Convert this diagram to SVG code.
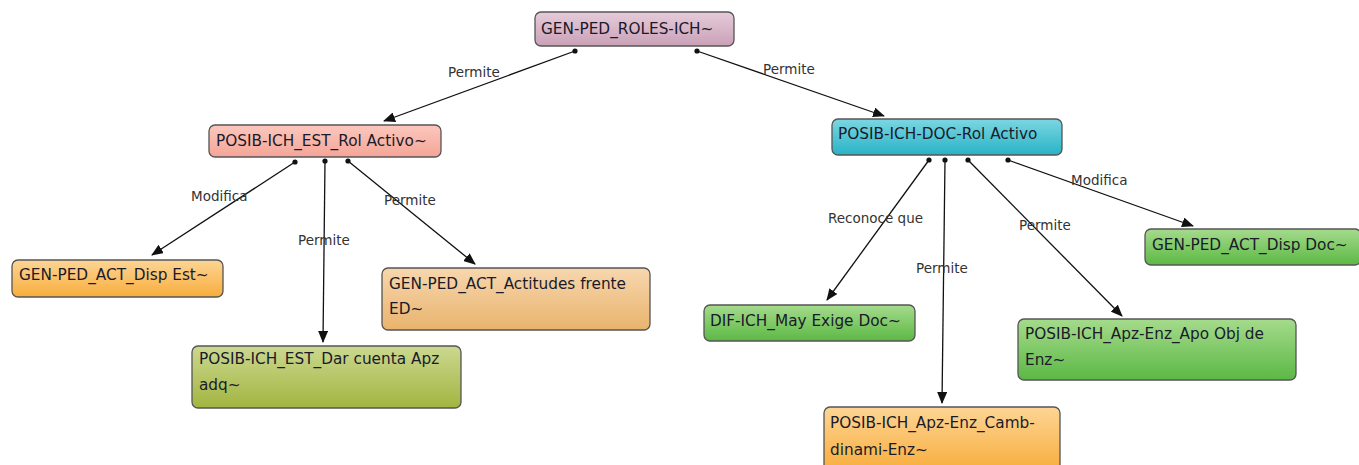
<svg xmlns="http://www.w3.org/2000/svg" width="1359" height="465" viewBox="0 0 1359 465">
<style>
.box{stroke:#555;stroke-width:1.3}
.t{font-family:"DejaVu Sans",Verdana,sans-serif;font-size:15.3px;fill:#1a1a2a}
.lbl{font-family:"DejaVu Sans",Verdana,sans-serif;font-size:13.5px;fill:#333}
.c{stroke:#111;stroke-width:1.3;fill:none;marker-end:url(#arr);marker-start:url(#dot)}
</style>
<defs>
<marker id="arr" viewBox="0 0 12 10" refX="11" refY="5" markerWidth="12" markerHeight="10" markerUnits="userSpaceOnUse" orient="auto"><path d="M0,0 L12,5 L0,10 z" fill="#111"/></marker>
<marker id="dot" viewBox="0 0 6 6" refX="3" refY="3" markerWidth="6" markerHeight="6" markerUnits="userSpaceOnUse"><circle cx="3" cy="3" r="2.6" fill="#111"/></marker>
<linearGradient id="gPink" x1="0" y1="0" x2="0" y2="1"><stop offset="0" stop-color="#e6cbd9"/><stop offset="1" stop-color="#c9a1b7"/></linearGradient>
<linearGradient id="gSalmon" x1="0" y1="0" x2="0" y2="1"><stop offset="0" stop-color="#fcc7bd"/><stop offset="1" stop-color="#f4a597"/></linearGradient>
<linearGradient id="gTeal" x1="0" y1="0" x2="0" y2="1"><stop offset="0" stop-color="#7dd6e2"/><stop offset="1" stop-color="#27b3c6"/></linearGradient>
<linearGradient id="gOrange" x1="0" y1="0" x2="0" y2="1"><stop offset="0" stop-color="#fdd595"/><stop offset="1" stop-color="#f8ad3c"/></linearGradient>
<linearGradient id="gTan" x1="0" y1="0" x2="0" y2="1"><stop offset="0" stop-color="#f7d7ae"/><stop offset="1" stop-color="#e9b36d"/></linearGradient>
<linearGradient id="gOlive" x1="0" y1="0" x2="0" y2="1"><stop offset="0" stop-color="#cbd890"/><stop offset="1" stop-color="#a2b540"/></linearGradient>
<linearGradient id="gGreen" x1="0" y1="0" x2="0" y2="1"><stop offset="0" stop-color="#a5db8c"/><stop offset="1" stop-color="#5cb845"/></linearGradient>
</defs>
<g id="connectors">
<line class="c" x1="575" y1="51" x2="384" y2="121"/>
<line class="c" x1="697" y1="51" x2="884" y2="116"/>
<line class="c" x1="295" y1="162" x2="152" y2="255"/>
<line class="c" x1="325" y1="161" x2="323" y2="342"/>
<line class="c" x1="348" y1="161" x2="475" y2="264"/>
<line class="c" x1="929" y1="160" x2="827" y2="300"/>
<line class="c" x1="945" y1="160" x2="942" y2="403"/>
<line class="c" x1="968" y1="160" x2="1122" y2="316"/>
<line class="c" x1="1008" y1="160" x2="1193" y2="226"/>
<text class="lbl" x="448" y="77">Permite</text>
<text class="lbl" x="763" y="74">Permite</text>
<text class="lbl" x="191" y="201">Modifica</text>
<text class="lbl" x="298" y="245">Permite</text>
<text class="lbl" x="384" y="205">Permite</text>
<text class="lbl" x="828" y="223">Reconoce que</text>
<text class="lbl" x="916" y="273">Permite</text>
<text class="lbl" x="1019" y="230">Permite</text>
<text class="lbl" x="1071" y="185">Modifica</text>
</g>
<g id="n1"><rect class="box" x="535" y="12" width="199" height="34" rx="6" fill="url(#gPink)"/><text class="t" x="541" y="34">GEN-PED_ROLES-ICH~</text></g>
<g id="n2"><rect class="box" x="209" y="125" width="232" height="32" rx="6" fill="url(#gSalmon)"/><text class="t" x="216" y="146">POSIB-ICH_EST_Rol Activo~</text></g>
<g id="n3"><rect class="box" x="832" y="119" width="230" height="36" rx="6" fill="url(#gTeal)"/><text class="t" x="838" y="139">POSIB-ICH-DOC-Rol Activo</text></g>
<g id="n4"><rect class="box" x="12" y="260" width="211" height="37" rx="6" fill="url(#gOrange)"/><text class="t" x="19" y="280">GEN-PED_ACT_Disp Est~</text></g>
<g id="n5"><rect class="box" x="382" y="268" width="268" height="62" rx="6" fill="url(#gTan)"/><text class="t" x="389" y="289">GEN-PED_ACT_Actitudes frente</text><text class="t" x="389" y="314">ED~</text></g>
<g id="n6"><rect class="box" x="192" y="346" width="269" height="62" rx="6" fill="url(#gOlive)"/><text class="t" x="199" y="364">POSIB-ICH_EST_Dar cuenta Apz</text><text class="t" x="199" y="390">adq~</text></g>
<g id="n7"><rect class="box" x="704" y="305" width="211" height="36" rx="6" fill="url(#gGreen)"/><text class="t" x="710" y="326">DIF-ICH_May Exige Doc~</text></g>
<g id="n8"><rect class="box" x="824" y="407" width="236" height="64" rx="6" fill="url(#gOrange)"/><text class="t" x="830" y="428">POSIB-ICH_Apz-Enz_Camb-</text><text class="t" x="830" y="455">dinami-Enz~</text></g>
<g id="n9"><rect class="box" x="1018" y="319" width="278" height="61" rx="6" fill="url(#gGreen)"/><text class="t" x="1025" y="339">POSIB-ICH_Apz-Enz_Apo Obj de</text><text class="t" x="1025" y="365">Enz~</text></g>
<g id="n10"><rect class="box" x="1145" y="229" width="216" height="36" rx="6" fill="url(#gGreen)"/><text class="t" x="1152" y="250">GEN-PED_ACT_Disp Doc~</text></g>
</svg>
